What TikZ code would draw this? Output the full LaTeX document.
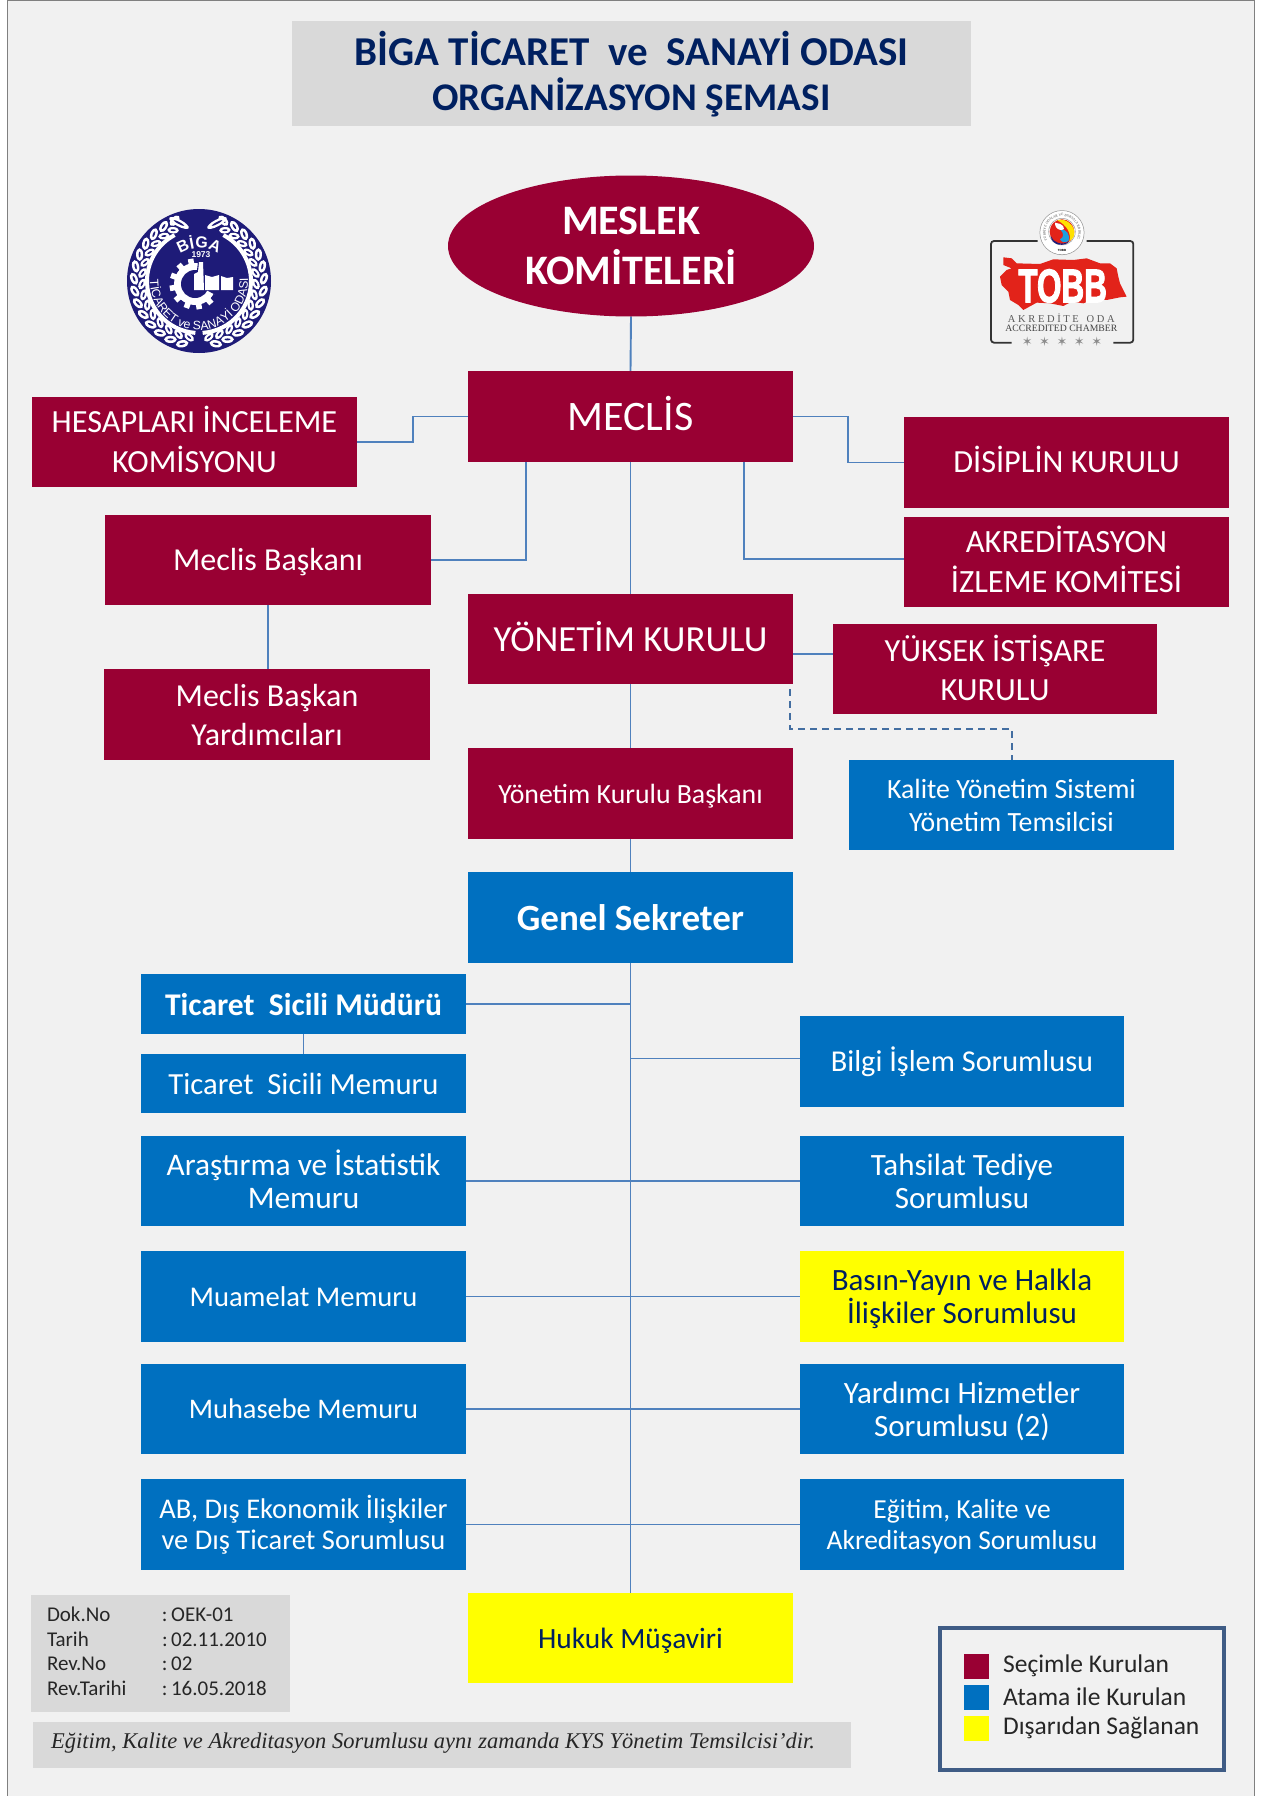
\documentclass[tikz,border=0pt]{standalone}
\usepackage{fontspec}
\setmainfont{Carlito}
\newfontfamily\serifit{Liberation Serif}
\newfontfamily\lsans{Liberation Sans}
\newfontfamily\tobbheavy[BoldFeatures={FakeBold=2.5}]{Liberation Sans}
\newfontfamily\dejavu{DejaVu Sans}
\usetikzlibrary{decorations.text,shapes.geometric}
\definecolor{maroon}{HTML}{990033}
\definecolor{corpblue}{HTML}{0070C0}
\definecolor{linkblue}{HTML}{4F81BD}
\definecolor{titlenavy}{HTML}{002060}
\definecolor{panelbg}{HTML}{F1F1F1}
\definecolor{boxgray}{HTML}{D9D9D9}
\definecolor{frameblue}{HTML}{3F5C85}
\definecolor{logonavy}{HTML}{1E1B78}
\definecolor{tobbred}{HTML}{E2231A}
\definecolor{pureyellow}{HTML}{FFFF00}
\definecolor{tobbyellow}{HTML}{FFE100}
\definecolor{tobbblue}{HTML}{1E9FE0}
\newcommand{\fs}[2]{\fontsize{#1}{#2}\selectfont}
% \bx{name}{x1}{y1}{x2}{y2}{style}{text}
\newcommand{\bx}[7]{%
  \pgfmathsetmacro{\bxw}{#4-#2}\pgfmathsetmacro{\bxh}{#5-#3}%
  \pgfmathsetmacro{\bxc}{(#2+#4)/2}\pgfmathsetmacro{\bxm}{(#3+#5)/2}%
  \node[#6,minimum width=\bxw pt,minimum height=\bxh pt] (#1) at (\bxc,\bxm) {#7};}
\tikzset{
  box/.style={rectangle,inner sep=0pt,align=center},
  sel/.style={box,fill=maroon,text=white,text depth=0pt},
  ata/.style={box,fill=corpblue,text=white,text depth=0pt},
  dis/.style={box,fill=pureyellow,text=titlenavy,text depth=0pt},
  link/.style={draw=linkblue,line width=1.9pt},
  dlink/.style={draw=linkblue!85!black,line width=1.8pt,dash pattern=on 7pt off 5pt},
  legtext/.style={anchor=west,inner sep=0pt,text=black!85,font=\fs{25.5}{28}},
}
\begin{document}
\begin{tikzpicture}[x=1pt,y=-1pt]
\useasboundingbox (0,0) rectangle (1267,1796);
\fill[white] (0,0) rectangle (1267,1796);
\fill[panelbg] (7,0) rectangle (1254,1796);
\draw[black!50,line width=1pt] (7,1796) -- (7,0.5) -- (1254,0.5) -- (1254,1796);

% title
\bx{title}{292}{21}{971}{126}{box,text depth=5pt,fill=boxgray,text=titlenavy,font=\fs{41}{45}\bfseries}{BİGA TİCARET~~ve~~SANAYİ ODASI\\\fs{39.2}{45}ORGANİZASYON ŞEMASI}

% top
\node[ellipse,fill=maroon,text=white,inner sep=0pt,minimum width=366pt,minimum height=141pt,align=center,font=\fs{42}{50}\bfseries] (kom) at (631,246) {MESLEK\\KOMİTELERİ};
\bx{mec}{468}{371}{793}{462}{sel,text depth=7pt,font=\fs{42}{48}}{MECLİS}
\bx{hes}{32}{397}{357}{487}{sel,text depth=5pt,font=\fs{32.3}{40}}{HESAPLARI İNCELEME\\KOMİSYONU}
\bx{disip}{904}{417}{1229}{508}{sel,text depth=7pt,font=\fs{32.3}{40}}{DİSİPLİN KURULU}
\bx{akr}{904}{517}{1229}{607}{sel,text depth=5pt,font=\fs{32.5}{40}}{AKREDİTASYON\\İZLEME KOMİTESİ}
\bx{mb}{105}{515}{431}{605}{sel,text depth=2pt,font=\fs{32}{38}}{Meclis Başkanı}
\bx{yk}{468}{594}{793}{684}{sel,text depth=5pt,font=\fs{36.8}{40}}{YÖNETİM KURULU}
\bx{yis}{833}{624}{1157}{714}{sel,text depth=3pt,font=\fs{32.3}{39}}{YÜKSEK İSTİŞARE\\KURULU}
\bx{mby}{104}{669}{430}{760}{sel,font=\fs{32}{39}}{Meclis Başkan\\Yardımcıları}
\bx{ykb}{468}{748}{793}{839}{sel,font=\fs{27.8}{32}}{Yönetim Kurulu Başkanı}
\bx{kal}{849}{760}{1174}{850}{ata,font=\fs{27.8}{33}}{Kalite Yönetim Sistemi\\Yönetim Temsilcisi}
\bx{gs}{468}{872}{793}{963}{ata,font=\fs{37}{40}\bfseries}{Genel Sekreter}

% left column
\bx{tsm}{141}{974}{466}{1034}{ata,font=\fs{31.6}{36}\bfseries}{Ticaret~~Sicili Müdürü}
\bx{tsme}{141}{1054}{466}{1113}{ata,font=\fs{30.7}{36}}{Ticaret~~Sicili Memuru}
\bx{ari}{141}{1136}{466}{1226}{ata,text depth=4pt,font=\fs{31.4}{33}}{Araştırma ve İstatistik\\Memuru}
\bx{mua}{141}{1251}{466}{1342}{ata,font=\fs{28.6}{33}}{Muamelat Memuru}
\bx{muh}{141}{1364}{466}{1454}{ata,font=\fs{28.4}{33}}{Muhasebe Memuru}
\bx{ab}{141}{1479}{466}{1570}{ata,text depth=4pt,font=\fs{28.5}{31}}{AB, Dış Ekonomik İlişkiler\\ve Dış Ticaret Sorumlusu}

% right column
\bx{bil}{800}{1016}{1124}{1107}{ata,text depth=4pt,font=\fs{30.3}{33}}{Bilgi İşlem Sorumlusu}
\bx{tah}{800}{1136}{1124}{1226}{ata,font=\fs{31}{33}}{Tahsilat Tediye\\Sorumlusu}
\bx{bas}{800}{1251}{1124}{1342}{dis,font=\fs{31}{33}}{Basın-Yayın ve Halkla\\İlişkiler Sorumlusu}
\bx{yar}{800}{1364}{1124}{1454}{ata,font=\fs{31}{33}}{Yardımcı Hizmetler\\Sorumlusu (2)}
\bx{egi}{800}{1479}{1124}{1570}{ata,font=\fs{27.5}{31}}{Eğitim, Kalite ve\\Akreditasyon Sorumlusu}

\bx{huk}{468}{1593}{793}{1683}{dis,font=\fs{29.4}{33}}{Hukuk Müşaviri}

% footer
\bx{doc}{31}{1595}{290}{1712}{box,fill=boxgray,text=black!85,font=\fs{21}{24.5}}{%
  \begin{tabular}{@{}p{115pt}@{}p{112pt}@{}}
  Dok.No & :\,OEK-01\\ Tarih & :\,02.11.2010\\ Rev.No & :\,02\\ Rev.Tarihi & :\,16.05.2018
  \end{tabular}}
\bx{note}{33}{1722}{851}{1768}{box,text depth=8pt,fill=boxgray,text=black!85,font=\fs{22.5}{27}\serifit\itshape}{Eğitim, Kalite ve Akreditasyon Sorumlusu aynı zamanda KYS Yönetim Temsilcisi’dir.\hspace*{18pt}}

% legend
\bx{leg}{940}{1628}{1224}{1770}{box,draw=frameblue,line width=4pt,fill=panelbg}{}
\bx{sw1}{964}{1654}{989}{1679}{box,fill=maroon}{}
\bx{sw2}{964}{1685}{989}{1710}{box,fill=corpblue}{}
\bx{sw3}{964}{1716}{989}{1741}{box,fill=pureyellow}{}
\node[legtext] (l1) at (1003,1666) {Seçimle Kurulan};
\node[legtext] (l2) at (1003,1697) {Atama ile Kurulan};
\node[legtext] (l3) at (1003,1728) {Dışarıdan Sağlanan};

% connectors
\draw[link] (kom.south) -- (mec.north);
\draw[link] (mec.west) -- (413,416.5) -- (413,442) -- (hes.east);
\draw[link] (mec.east) -- (848,416.5) -- (848,462.5) -- (disip.west);
\coordinate (mecB1) at (526,462);
\coordinate (mecB2) at (744,462);
\draw[link] (mecB1) |- (mb.east);
\draw[link] (mecB2) |- ([yshift=3pt]akr.west);
\draw[link] (mec.south) -- (yk.north);
\draw[link] (mb.south) -- (mb.south |- mby.north);
\coordinate (ykR) at (793,654);
\draw[link] (ykR) -- (ykR -| yis.west);
\draw[link] (yk.south) -- (ykb.north);
\draw[link] (ykb.south) -- (gs.north);
\coordinate (dstart) at (790,689);
\coordinate (dtop) at (1012,729);
\draw[dlink] (dstart) |- (dtop) -- (dtop |- kal.north);
\draw[link] (gs.south) -- (huk.north);
\foreach \n in {tsm,ari,mua,muh,ab}{\draw[link] (\n.east) -- (\n.east -| gs.south);}
\foreach \n in {tah,bas,yar,egi}{\draw[link] (\n.west) -- (\n.west -| gs.south);}
\draw[link] ([yshift=3pt]bil.west) -- ([yshift=3pt]bil.west -| gs.south);
\draw[link] (tsm.south) -- (tsme.north);

% Biga logo
\begin{scope}[shift={(199,281)},x=1pt,y=1pt]
  \fill[logonavy] (0,0) circle (72);
  \draw[white,line width=4pt] (266:52) arc[start angle=266,end angle=118,radius=52];
  \draw[white,line width=4pt] (-86:52) arc[start angle=-86,end angle=62,radius=52];
  \foreach \a in {112,123,...,262}{
    \fill[white,shift={(\a:65)},rotate=\a+25] (0,0) ellipse (3.6pt and 6.4pt);
    \fill[logonavy,shift={(\a:65)},rotate=\a+25] (0,0) ellipse (1pt and 3pt);
    \fill[white,shift={(\a+5:57)},rotate=\a-25] (0,0) ellipse (3.2pt and 5.8pt);
    \fill[logonavy,shift={(\a+5:57)},rotate=\a-25] (0,0) ellipse (0.9pt and 2.6pt);
  }
  \foreach \a in {68,57,...,-84}{
    \fill[white,shift={(\a:65)},rotate=\a-25] (0,0) ellipse (3.6pt and 6.4pt);
    \fill[logonavy,shift={(\a:65)},rotate=\a-25] (0,0) ellipse (1pt and 3pt);
    \fill[white,shift={(\a-5:57)},rotate=\a+25] (0,0) ellipse (3.2pt and 5.8pt);
    \fill[logonavy,shift={(\a-5:57)},rotate=\a+25] (0,0) ellipse (0.9pt and 2.6pt);
  }
  \fill[white,shift={(-20,58)},rotate=-28] (0,0) ellipse (11pt and 3.4pt);
  \fill[logonavy,shift={(-20,58)},rotate=-28] (0,0) ellipse (6pt and 1pt);
  \fill[white,shift={(18,58)},rotate=28] (0,0) ellipse (11pt and 3.4pt);
  \fill[logonavy,shift={(18,58)},rotate=28] (0,0) ellipse (6pt and 1pt);
  % gear
  \begin{scope}[shift={(-4,-3)}]
    \foreach \a in {0,30,...,330}{\fill[white,rotate=\a+10] (18,-2.8) rectangle (25.5,2.8);}
    \fill[white] (0,0) circle (21);
    \fill[logonavy] (0,0) circle (14);
    \fill[logonavy] (0,0) -- (-28:32) arc[start angle=-28,end angle=82,radius=32] -- cycle;
  \end{scope}
  \fill[white] (-5,-9) -- (-5,7) -- (-1,9) -- (0,19) -- (4,19) -- (5,-9) -- cycle;
  \fill[white] (6,-9) -- (6,6) -- (13,4) -- (20,6) -- (20,-9) -- cycle;
  \fill[white] (22,-9) -- (22,5) -- (28,3) -- (34,4) -- (34,-9) -- cycle;
  \path[decorate,decoration={text along path,text align=center,
     text={|\fs{16}{17}\lsans\bfseries\color{white}|BİGA}}]
     (128:33) arc[start angle=128,end angle=52,radius=33];
  \node[text=white,inner sep=0pt,font=\fs{8.5}{9}\lsans\bfseries] (bigayear) at (2,26.5) {1973};
  \path[decorate,decoration={text along path,text align=center,
     text={|\fs{12.2}{13}\lsans\color{white}|TİCARET ve SANAYİ ODASI}}]
     (170:49) arc[start angle=170,end angle=372,radius=49];
\end{scope}

% TOBB logo
\begin{scope}[shift={(940,180)},x=0.3333pt,y=-0.3333pt]
  \draw[black!80,line width=1.8pt,rounded corners=3pt] (293,183) -- (153,183) -- (153,488) -- (215,488);
  \draw[black!80,line width=1.8pt,rounded corners=3pt] (440,183) -- (580,183) -- (580,488) -- (520,488);
  \fill[panelbg] (366,158) circle (70);
  \draw[black!40,line width=0.8pt] (366,158) circle (66);
  \fill[white] (366,158) circle (65);
  \draw[black!40,line width=0.5pt] (366,155) circle (40);
  \fill[tobbred] (366,155) circle (37);
  \fill[tobbyellow] (352,121) .. controls (375,112) and (405,135) .. (403,160) .. controls (402,172) and (395,180) .. (388,184) .. controls (395,160) and (380,135) .. (352,121) -- cycle;
  \fill[tobbblue] (362,150) .. controls (378,145) and (392,165) .. (386,182) .. controls (378,190) and (365,188) .. (360,178) .. controls (372,172) and (372,160) .. (362,150) -- cycle;
  \fill[white] (345,128) .. controls (365,128) and (385,150) .. (362,150) .. controls (350,148) and (345,140) .. (345,128) -- cycle;
  \fill[logonavy] (332,168) .. controls (340,188) and (365,198) .. (388,184) .. controls (378,200) and (335,200) .. (332,168) -- cycle;
  \node[inner sep=0pt,font=\fs{3}{3}\lsans\bfseries] (tobbsmall) at (366,210) {TOBB};
  \fill[tobbred] (190,232) -- (215,235) -- (230,250) -- (300,252) -- (340,238) -- (400,240) -- (440,235) -- (480,250) -- (510,250) -- (530,265) -- (535,290) -- (540,310) -- (560,350) -- (540,352) -- (500,360) -- (470,355) -- (430,370) -- (395,365) -- (370,378) -- (330,370) -- (290,368) -- (250,390) -- (235,375) -- (210,360) -- (205,335) -- (185,315) -- (180,290) -- (200,270) -- (215,265) -- (190,255) -- cycle;
  \node[inner sep=0pt,text=white,font=\fs{45}{45}\tobbheavy\bfseries,xscale=0.7,yscale=1.05] (tobbword) at (368,318) {TOBB};
  \node[inner sep=0pt,text=black!65,font=\fs{10.5}{11}\serifit] (tobba) at (364,416) {A K R E D İ T E~~~O D A};
  \node[inner sep=0pt,text=black!75,font=\fs{9.7}{11}\serifit] (tobbb) at (364,445) {ACCREDITED CHAMBER};
  \node[inner sep=0pt,text=black!45,font=\fs{13}{14}\dejavu] (tobbs) at (366,484) {✶\,\,\,✶\,\,\,✶\,\,\,✶\,\,\,✶};
\end{scope}
\begin{scope}[shift={(1062,232.5)},x=1pt,y=1pt]
  \path[decorate,decoration={text along path,text align=center,
     text={|\fs{3.4}{4}\serifit\color{black!70}|TÜRKİYE ODALAR VE BORSALAR BİRLİĞİ}}]
     (205:16.5) arc[start angle=205,end angle=-25,radius=16.5];
\end{scope}
\end{tikzpicture}
\end{document}
